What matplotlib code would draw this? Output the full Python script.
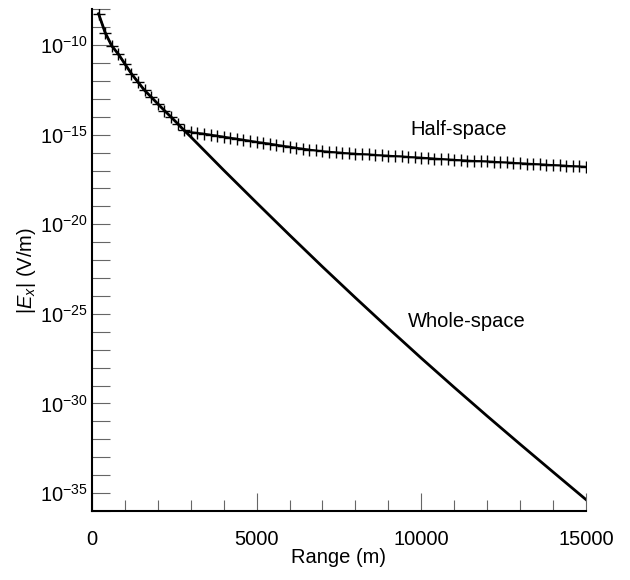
import numpy as np
import matplotlib
matplotlib.use("Agg")
import matplotlib.pyplot as plt
from matplotlib.ticker import FixedLocator, NullFormatter

plt.rcParams["font.family"] = ["Liberation Sans", "DejaVu Sans"]
plt.rcParams["mathtext.fontset"] = "custom"
plt.rcParams["mathtext.rm"] = "Liberation Sans"
plt.rcParams["mathtext.it"] = "Liberation Sans:italic"

# half-space response, markers every 200 m (log10 of |Ex| in V/m)
range_half = np.arange(200, 15001, 200)
log_half = np.array([
    -8.25, -9.30, -10.04, -10.50, -11.05, -11.60, -12.07, -12.53, -12.90, -13.28,
    -13.65, -14.01, -14.38, -14.76, -14.86, -14.90, -14.94, -15.00, -15.05, -15.11,
    -15.17, -15.22, -15.28, -15.34, -15.40, -15.45, -15.50, -15.56, -15.62, -15.67,
    -15.73, -15.78, -15.83, -15.88, -15.92, -15.95, -15.98, -16.01, -16.04, -16.06,
    -16.08, -16.10, -16.13, -16.15, -16.17, -16.19, -16.21, -16.24, -16.26, -16.28,
    -16.30, -16.33, -16.35, -16.38, -16.40, -16.42, -16.44, -16.46, -16.47, -16.49,
    -16.51, -16.53, -16.55, -16.57, -16.59, -16.61, -16.63, -16.65, -16.67, -16.69,
    -16.71, -16.73, -16.75, -16.77, -16.79,
])

# whole-space response
range_whole = np.array([200, 400, 600, 800, 1000, 1200, 1400, 1600, 1800, 2000,
                        2200, 2400, 2600, 2800, 3000, 4000, 5000, 6000, 7000,
                        8000, 9000, 10000, 11000, 12000, 13000, 14000, 15000])
log_whole = np.array([-8.25, -9.30, -10.04, -10.50, -11.05, -11.60, -12.07, -12.53,
                      -12.90, -13.28, -13.65, -14.01, -14.38, -14.76, -15.12, -16.98,
                      -18.80, -20.60, -22.37, -24.10, -25.80, -27.47, -29.10, -30.70,
                      -32.27, -33.82, -35.36])

y_exponents = [-35, -30, -25, -20, -15, -10]
x_ticks = [0, 5000, 10000, 15000]

fig = plt.figure(figsize=(6.3, 5.8), dpi=100)
ax = fig.add_axes([0.146, 0.119, 0.784, 0.865])

ax.semilogy(range_whole, 10.0 ** log_whole, color="black", lw=2.0)
ax.semilogy(range_half, 10.0 ** log_half, color="black", lw=1.3,
            marker="+", ms=8, mew=1.0)

ax.set_xlim(0, 15000)
ax.set_ylim(1e-36, 1e-8)

ax.set_yticks([10.0 ** e for e in y_exponents])
ax.set_yticklabels([rf"$10^{{{e}}}$" for e in y_exponents])
ax.yaxis.set_minor_locator(FixedLocator([10.0 ** e for e in range(-36, -7)]))
ax.yaxis.set_minor_formatter(NullFormatter())

ax.set_xticks(x_ticks)
ax.set_xticklabels([str(t) for t in x_ticks])
ax.xaxis.set_minor_locator(FixedLocator(range(0, 15001, 1000)))

ax.tick_params(axis="y", which="both", direction="in", length=13, width=0.8,
               color="0.4", labelsize=14.5, pad=3)
ax.tick_params(axis="x", which="major", direction="in", length=13, width=0.8,
               color="0.4", labelsize=14.5, pad=14)
ax.tick_params(axis="x", which="minor", direction="in", length=8, width=0.8,
               color="0.4")

for side in ["top", "right"]:
    ax.spines[side].set_visible(False)
for side in ["left", "bottom"]:
    ax.spines[side].set_linewidth(1.5)

ax.set_xlabel("Range (m)", fontsize=14.5)
ax.xaxis.set_label_coords(0.5, -0.074)
ax.set_ylabel(r"|$E_{x}$| (V/m)", fontsize=14.5)
ax.yaxis.set_label_coords(-0.11, 0.48)

ax.text(9656, 10.0 ** -14.69, "Half-space", fontsize=14.5, ha="left", va="center")
ax.text(9595, 10.0 ** -25.42, "Whole-space", fontsize=14.5, ha="left", va="center")

plt.savefig("out.png", dpi=100)
